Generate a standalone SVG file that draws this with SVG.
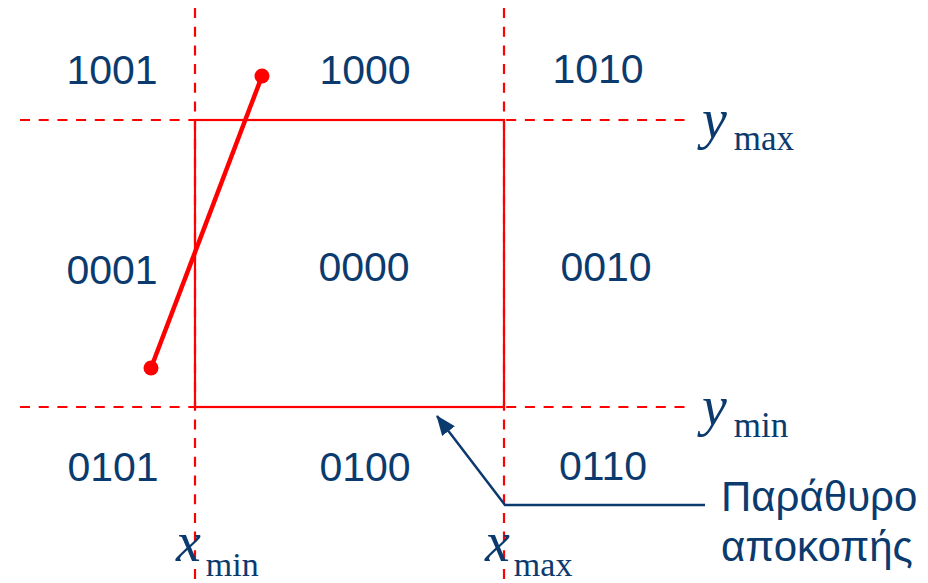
<svg xmlns="http://www.w3.org/2000/svg" width="928" height="583" viewBox="0 0 928 583">
<defs>
<style>
.dash{stroke:#ff0000;stroke-width:2.2;stroke-dasharray:10 8.7;fill:none}
.code{font-family:"Liberation Sans",Arial,sans-serif;font-size:41px;fill:#0b3b6e;text-anchor:middle}
.var{font-family:"Liberation Serif","Times New Roman",serif;font-style:italic;font-size:56px;fill:#0b3b6e}
.sub{font-family:"Liberation Serif","Times New Roman",serif;font-size:35px;fill:#0b3b6e}
.lbl{font-family:"Liberation Sans",Arial,sans-serif;font-size:42px;fill:#0b3b6e}
</style>
<marker id="ah2" viewBox="0 0 20 16" refX="19" refY="8" markerWidth="20" markerHeight="16" markerUnits="userSpaceOnUse" orient="auto"><path d="M0,0 L20,8 L0,16 z" fill="#0b3b6e"/></marker>
</defs>
<g id="grid">
<line class="dash" x1="20" y1="120" x2="685" y2="120"/>
<line class="dash" x1="20" y1="407" x2="685" y2="407"/>
<line class="dash" x1="195" y1="8" x2="195" y2="583"/>
<line class="dash" x1="504" y1="8" x2="504" y2="583"/>
</g>
<g id="window">
<rect x="195" y="120" width="309" height="287" fill="none" stroke="#ff0000" stroke-width="2.2"/>
</g>
<g id="segment">
<line x1="262" y1="76" x2="151" y2="368" stroke="#ff0000" stroke-width="4.5"/>
<circle cx="262" cy="76" r="7.5" fill="#ff0000"/>
<circle cx="151" cy="368" r="7.5" fill="#ff0000"/>
</g>
<g id="codes">
<text class="code" x="112" y="84">1001</text>
<text class="code" x="365" y="84">1000</text>
<text class="code" x="598" y="83">1010</text>
<text class="code" x="112" y="284">0001</text>
<text class="code" x="364" y="281">0000</text>
<text class="code" x="606" y="281">0010</text>
<text class="code" x="113" y="481">0101</text>
<text class="code" x="365" y="481">0100</text>
<text class="code" x="603" y="480">0110</text>
</g>
<g id="axis-labels">
<text x="702" y="138"><tspan class="var">y</tspan><tspan class="sub" dx="7" dy="12">max</tspan></text>
<text x="702" y="425"><tspan class="var">y</tspan><tspan class="sub" dx="7" dy="12">min</tspan></text>
<text x="176" y="561"><tspan class="var">x</tspan><tspan class="sub" dx="5" dy="15" style="font-size:34px">min</tspan></text>
<text x="485" y="561"><tspan class="var">x</tspan><tspan class="sub" dx="4" dy="15" style="font-size:34px">max</tspan></text>
</g>
<g id="connectors">
<polyline points="705,505 505,505 437,416" fill="none" stroke="#0b3b6e" stroke-width="2.5" marker-end="url(#ah2)"/>
</g>
<g id="label">
<text class="lbl" x="721" y="511">Παράθυρο</text>
<text class="lbl" x="721" y="561">αποκοπής</text>
</g>
</svg>
